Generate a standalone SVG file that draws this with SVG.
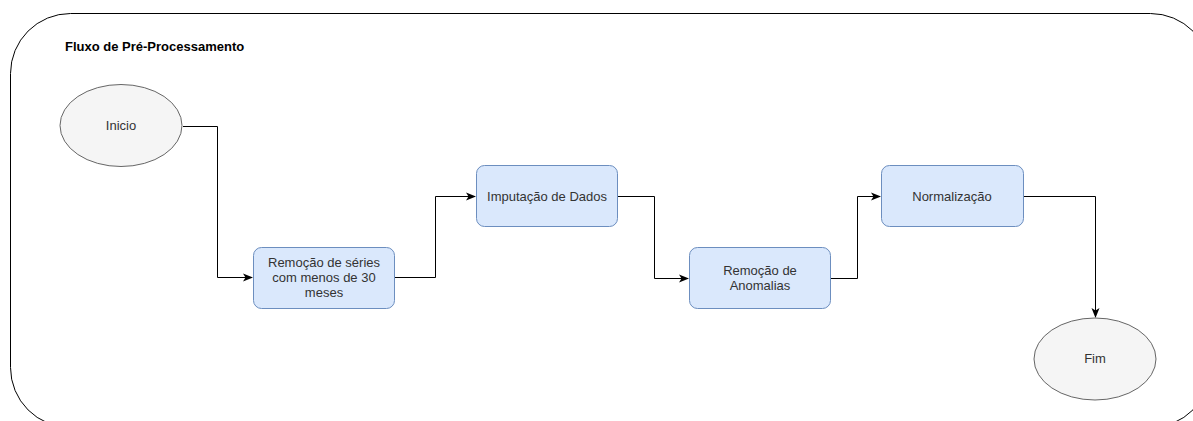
<svg xmlns="http://www.w3.org/2000/svg" width="1193" height="421" viewBox="0 0 1193 421">
  <style>
    .lbl { font-family: "Liberation Sans", Arial, sans-serif; font-size: 13px; fill: #333333; text-anchor: middle; }
    .title { font-family: "Liberation Sans", Arial, sans-serif; font-size: 13px; font-weight: bold; fill: #000000; }
    .step { fill: #dae8fc; stroke: #6c8ebf; stroke-width: 1; }
    .term { fill: #f5f5f5; stroke: #666666; stroke-width: 1; }
    .edge { fill: none; stroke: #000000; stroke-width: 1; marker-end: url(#arrow); }
  </style>
  <defs>
    <marker id="arrow" viewBox="0 0 10 10" refX="9" refY="5" markerWidth="10" markerHeight="10" markerUnits="userSpaceOnUse" orient="auto">
      <path d="M0,1 L10,5 L0,9 L2.5,5 Z" fill="#000000"/>
    </marker>
  </defs>
  <rect width="1193" height="421" fill="#ffffff"/>

  <!-- container -->
  <g id="container">
    <rect x="10.5" y="13.5" width="1200" height="414" rx="60" ry="60" fill="none" stroke="#000000" stroke-width="1"/>
    <text class="title" x="65" y="51">Fluxo de Pré-Processamento</text>
  </g>

  <!-- connectors -->
  <g id="connectors">
    <path class="edge" d="M183,126.5 H217.5 V277.5 H252"/>
    <path class="edge" d="M395,277.5 H435.5 V196.5 H475"/>
    <path class="edge" d="M618,196.5 H654.5 V278.5 H688"/>
    <path class="edge" d="M831,278.5 H857.5 V196.5 H880"/>
    <path class="edge" d="M1024,196.5 H1095.5 V317"/>
  </g>

  <g id="inicio">
    <ellipse class="term" cx="121" cy="125.5" rx="61" ry="41"/>
    <text class="lbl" x="121" y="130">Inicio</text>
  </g>

  <g id="remocao-series">
    <rect class="step" x="253.5" y="247.5" width="141" height="61" rx="8" ry="8"/>
    <text class="lbl" x="324" y="267">Remoção de séries</text>
    <text class="lbl" x="324" y="282">com menos de 30</text>
    <text class="lbl" x="324" y="297">meses</text>
  </g>

  <g id="imputacao">
    <rect class="step" x="476.5" y="165.5" width="141" height="61" rx="8" ry="8"/>
    <text class="lbl" x="547" y="201">Imputação de Dados</text>
  </g>

  <g id="remocao-anomalias">
    <rect class="step" x="689.5" y="247.5" width="141" height="61" rx="8" ry="8"/>
    <text class="lbl" x="760" y="275">Remoção de</text>
    <text class="lbl" x="760" y="290">Anomalias</text>
  </g>

  <g id="normalizacao">
    <rect class="step" x="881.5" y="165.5" width="142" height="61" rx="8" ry="8"/>
    <text class="lbl" x="952" y="201">Normalização</text>
  </g>

  <g id="fim">
    <ellipse class="term" cx="1095" cy="359" rx="61" ry="41"/>
    <text class="lbl" x="1095" y="363">Fim</text>
  </g>
</svg>
